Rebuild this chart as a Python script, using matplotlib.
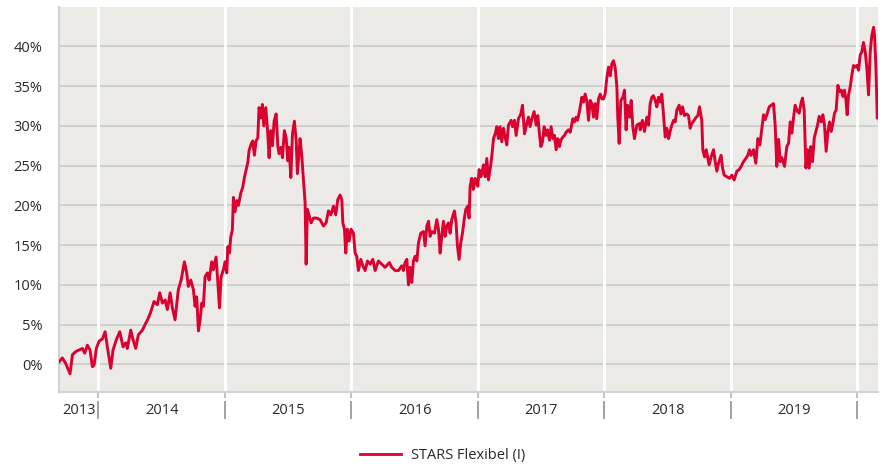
import matplotlib.pyplot as plt
from matplotlib.lines import Line2D

plt.rcParams["font.family"] = ["Open Sans", "DejaVu Sans"]

# Dates of the readings, as decimal years
years = [
    2013.690, 2013.716, 2013.743, 2013.777, 2013.796, 2013.822, 2013.848, 2013.875,
    2013.893, 2013.914, 2013.935, 2013.954, 2013.967, 2013.985, 2014.006, 2014.033,
    2014.054, 2014.072, 2014.099, 2014.117, 2014.143, 2014.170, 2014.196, 2014.217,
    2014.230, 2014.257, 2014.275, 2014.296, 2014.317, 2014.349, 2014.370, 2014.396,
    2014.415, 2014.441, 2014.467, 2014.486, 2014.507, 2014.528, 2014.546, 2014.568,
    2014.586, 2014.607, 2014.633, 2014.655, 2014.681, 2014.699, 2014.712, 2014.731,
    2014.752, 2014.765, 2014.778, 2014.792, 2014.805, 2014.818, 2014.831, 2014.844,
    2014.863, 2014.876, 2014.897, 2014.910, 2014.931, 2014.944, 2014.958, 2014.971,
    2014.989, 2015.002, 2015.016, 2015.024, 2015.037, 2015.047, 2015.060, 2015.068,
    2015.081, 2015.095, 2015.108, 2015.126, 2015.142, 2015.155, 2015.168, 2015.182,
    2015.192, 2015.208, 2015.221, 2015.234, 2015.247, 2015.261, 2015.271, 2015.284,
    2015.297, 2015.308, 2015.324, 2015.340, 2015.350, 2015.363, 2015.377, 2015.390,
    2015.406, 2015.419, 2015.429, 2015.445, 2015.456, 2015.471, 2015.485, 2015.498,
    2015.508, 2015.522, 2015.535, 2015.550, 2015.564, 2015.574, 2015.595, 2015.608,
    2015.622, 2015.635, 2015.643, 2015.653, 2015.669, 2015.682, 2015.701, 2015.727,
    2015.753, 2015.780, 2015.801, 2015.819, 2015.838, 2015.859, 2015.877, 2015.893,
    2015.911, 2015.925, 2015.933, 2015.946, 2015.956, 2015.969, 2015.983, 2015.998,
    2016.017, 2016.030, 2016.043, 2016.056, 2016.075, 2016.091, 2016.109, 2016.128,
    2016.149, 2016.170, 2016.188, 2016.214, 2016.241, 2016.267, 2016.301, 2016.320,
    2016.346, 2016.373, 2016.399, 2016.412, 2016.425, 2016.439, 2016.452, 2016.465,
    2016.478, 2016.491, 2016.504, 2016.518, 2016.531, 2016.549, 2016.570, 2016.583,
    2016.597, 2016.610, 2016.623, 2016.636, 2016.657, 2016.676, 2016.689, 2016.702,
    2016.715, 2016.728, 2016.742, 2016.755, 2016.768, 2016.781, 2016.794, 2016.815,
    2016.828, 2016.839, 2016.852, 2016.865, 2016.879, 2016.892, 2016.905, 2016.921,
    2016.931, 2016.939, 2016.952, 2016.965, 2016.979, 2017.000, 2017.010, 2017.026,
    2017.045, 2017.058, 2017.071, 2017.084, 2017.097, 2017.110, 2017.124, 2017.137,
    2017.150, 2017.163, 2017.176, 2017.189, 2017.203, 2017.216, 2017.229, 2017.242,
    2017.263, 2017.274, 2017.290, 2017.303, 2017.321, 2017.340, 2017.353, 2017.369,
    2017.387, 2017.400, 2017.413, 2017.427, 2017.445, 2017.461, 2017.474, 2017.487,
    2017.498, 2017.511, 2017.524, 2017.537, 2017.550, 2017.566, 2017.579, 2017.593,
    2017.606, 2017.619, 2017.632, 2017.645, 2017.656, 2017.672, 2017.685, 2017.698,
    2017.716, 2017.730, 2017.751, 2017.764, 2017.777, 2017.788, 2017.803, 2017.822,
    2017.835, 2017.848, 2017.861, 2017.875, 2017.888, 2017.901, 2017.914, 2017.927,
    2017.940, 2017.954, 2017.967, 2017.980, 2017.993, 2018.006, 2018.020, 2018.033,
    2018.046, 2018.059, 2018.072, 2018.085, 2018.099, 2018.106, 2018.117, 2018.130,
    2018.146, 2018.159, 2018.172, 2018.183, 2018.199, 2018.212, 2018.225, 2018.238,
    2018.257, 2018.278, 2018.283, 2018.301, 2018.317, 2018.336, 2018.349, 2018.362,
    2018.375, 2018.388, 2018.402, 2018.415, 2018.428, 2018.441, 2018.454, 2018.467,
    2018.481, 2018.494, 2018.507, 2018.520, 2018.533, 2018.547, 2018.560, 2018.573,
    2018.591, 2018.605, 2018.618, 2018.633, 2018.652, 2018.665, 2018.678, 2018.691,
    2018.710, 2018.726, 2018.739, 2018.752, 2018.770, 2018.778, 2018.792, 2018.805,
    2018.818, 2018.828, 2018.844, 2018.863, 2018.876, 2018.889, 2018.902, 2018.923,
    2018.934, 2018.947, 2018.968, 2018.989, 2019.008, 2019.026, 2019.047, 2019.066,
    2019.081, 2019.100, 2019.118, 2019.134, 2019.147, 2019.160, 2019.179, 2019.197,
    2019.213, 2019.229, 2019.245, 2019.258, 2019.271, 2019.284, 2019.303, 2019.319,
    2019.337, 2019.350, 2019.363, 2019.377, 2019.390, 2019.403, 2019.424, 2019.442,
    2019.456, 2019.469, 2019.482, 2019.495, 2019.508, 2019.527, 2019.540, 2019.556,
    2019.566, 2019.579, 2019.593, 2019.606, 2019.619, 2019.632, 2019.645, 2019.659,
    2019.672, 2019.685, 2019.698, 2019.714, 2019.727, 2019.740, 2019.753, 2019.767,
    2019.780, 2019.793, 2019.806, 2019.819, 2019.832, 2019.846, 2019.859, 2019.872,
    2019.885, 2019.898, 2019.909, 2019.919, 2019.930, 2019.943, 2019.956, 2019.969,
    2019.983, 2019.996, 2020.009, 2020.022, 2020.035, 2020.048, 2020.062, 2020.075,
    2020.088, 2020.101, 2020.114, 2020.128, 2020.135, 2020.146, 2020.157,
]

# Cumulative performance in percent
perf = [
    0.3, 0.8, 0.1, -1.2, 1.2, 1.6, 1.8, 2.0,
    1.4, 2.4, 1.8, -0.3, -0.1, 2.0, 2.9, 3.2,
    4.1, 2.2, -0.5, 1.8, 3.1, 4.1, 2.2, 2.7,
    2.0, 4.3, 3.1, 2.0, 3.7, 4.3, 5.0, 5.8,
    6.6, 7.9, 7.5, 9.0, 7.7, 8.1, 6.9, 9.0,
    7.1, 5.6, 9.4, 10.6, 12.9, 11.5, 9.8, 10.6,
    9.4, 7.3, 8.5, 4.2, 5.6, 7.7, 7.3, 11.0,
    11.5, 10.6, 12.9, 11.9, 13.5, 10.6, 7.1, 11.0,
    11.9, 12.9, 11.5, 14.8, 14.0, 16.0, 16.9, 21.0,
    19.2, 20.6, 20.0, 21.5, 22.3, 23.5, 24.4, 25.4,
    26.9, 27.7, 28.1, 26.3, 28.1, 28.5, 32.3, 31.0,
    32.7, 30.0, 32.3, 29.0, 26.0, 29.4, 27.5, 30.6,
    31.5, 27.5, 26.5, 27.3, 26.0, 29.4, 28.5, 25.6,
    27.3, 23.5, 29.0, 30.6, 28.2, 24.0, 28.4, 26.3,
    23.2, 20.3, 12.6, 19.5, 18.6, 17.8, 18.4, 18.4,
    18.2, 17.4, 17.8, 19.3, 18.8, 19.9, 18.8, 20.7,
    21.3, 20.7, 17.8, 17.0, 14.0, 17.0, 15.5, 17.0,
    16.5, 14.0, 13.6, 11.8, 13.2, 12.4, 11.8, 13.0,
    12.6, 13.2, 11.8, 13.0, 12.6, 12.2, 12.8, 12.2,
    11.8, 11.8, 12.4, 11.8, 12.8, 13.2, 10.0, 12.2,
    10.3, 13.0, 13.6, 13.0, 15.3, 16.5, 16.7, 14.9,
    17.4, 18.0, 16.1, 16.7, 16.5, 18.2, 17.0, 14.0,
    16.1, 18.0, 16.1, 17.4, 17.8, 16.5, 18.2, 19.3,
    17.8, 14.9, 13.2, 15.3, 16.5, 18.2, 19.5, 19.9,
    18.4, 22.4, 23.4, 22.0, 23.4, 22.4, 24.5, 23.6,
    25.1, 23.6, 25.9, 23.2, 24.5, 26.1, 28.4, 29.0,
    29.9, 28.4, 29.9, 28.0, 29.7, 28.6, 27.6, 30.1,
    30.7, 29.9, 30.7, 28.8, 30.9, 31.5, 32.6, 29.0,
    30.3, 31.1, 29.9, 30.9, 31.8, 30.1, 31.3, 29.0,
    27.4, 28.0, 29.9, 28.8, 29.5, 28.2, 29.9, 28.4,
    28.8, 27.0, 28.4, 27.4, 28.2, 28.6, 28.8, 29.2,
    29.5, 29.2, 30.9, 30.5, 31.1, 30.7, 31.8, 33.6,
    33.0, 34.0, 33.2, 30.7, 33.2, 32.8, 31.1, 32.8,
    30.9, 33.4, 34.0, 33.4, 33.4, 34.0, 36.1, 37.4,
    36.3, 37.8, 38.2, 37.4, 34.9, 31.1, 27.8, 33.2,
    33.6, 34.5, 29.5, 32.6, 31.1, 33.2, 29.9, 28.4,
    30.1, 30.3, 29.5, 30.7, 29.3, 31.1, 30.1, 32.8,
    33.6, 33.8, 33.2, 32.4, 33.6, 33.0, 34.0, 31.5,
    28.6, 29.7, 28.4, 29.3, 30.1, 30.7, 30.5, 32.0,
    32.6, 31.5, 32.4, 31.3, 31.5, 31.3, 29.7, 30.3,
    30.7, 31.1, 31.3, 32.4, 30.7, 27.0, 26.1, 27.0,
    25.9, 25.1, 26.1, 27.0, 25.5, 24.3, 25.3, 26.3,
    24.7, 23.8, 23.6, 23.4, 23.8, 23.2, 24.3, 24.5,
    24.9, 25.5, 25.9, 26.3, 27.0, 26.3, 27.0, 25.3,
    28.4, 27.6, 29.7, 31.4, 30.8, 31.4, 32.4, 32.6,
    32.8, 30.1, 24.9, 28.3, 25.5, 26.0, 24.9, 27.4,
    27.8, 30.5, 29.1, 31.0, 32.6, 31.8, 31.6, 33.0,
    33.5, 32.0, 24.7, 27.0, 24.7, 27.4, 25.5, 28.5,
    29.3, 30.1, 31.2, 30.5, 31.4, 30.1, 26.8, 29.3,
    30.5, 29.3, 30.3, 31.6, 32.0, 35.1, 34.3, 34.5,
    33.7, 34.5, 33.3, 31.4, 33.9, 34.9, 36.4, 37.6,
    37.4, 37.6, 37.0, 38.9, 39.3, 40.5, 39.3, 37.2,
    33.9, 39.3, 41.4, 42.4, 41.4, 37.6, 31.0,
]

year_starts = [2014, 2015, 2016, 2017, 2018, 2019, 2020]
year_labels = ["2013", "2014", "2015", "2016", "2017", "2018", "2019"]
y_ticks = [0, 5, 10, 15, 20, 25, 30, 35, 40]
series_name = "STARS Flexibel (I)"

RED = "#DA0030"
TEXT = "#2a2a2a"
x_min, x_max = 2013.69, 2020.16

fig = plt.figure(figsize=(8.85, 4.67), dpi=100)
ax = fig.add_axes([0.0667, 0.1612, 0.9250, 0.8245])
ax.set_facecolor("#EBEAE7")

ax.plot(years, perf, color=RED, lw=2.1, zorder=3, solid_joinstyle="round")

# white year separators inside the plot
for ys in year_starts:
    ax.axvline(ys, color="white", lw=2.2, zorder=1)

ax.set_xlim(x_min, x_max)
ax.set_ylim(-3.45, 45.0)

ax.set_yticks(y_ticks)
ax.set_yticklabels([f"{v}%" for v in y_ticks])
ax.yaxis.grid(True, color="#CDCDCD", lw=1.3)
ax.set_axisbelow(True)
ax.tick_params(axis="y", length=0, pad=12, labelsize=10.5, labelcolor=TEXT)

# year boundaries as short ticks, labels centred in each year
edges = [x_min] + year_starts
mids = [(a + b) / 2 for a, b in zip(edges[:-1], edges[1:])]
ax.set_xticks(year_starts)
ax.set_xticklabels([])
ax.set_xticks(mids, minor=True)
ax.set_xticklabels(year_labels, minor=True)
ax.tick_params(axis="x", which="major", length=4, width=1.5, color="#C4C4C4")
ax.tick_params(axis="x", which="minor", length=0, pad=8, labelsize=10.5,
               labelcolor=TEXT)

# separator bars between the year labels
trans = ax.get_xaxis_transform()
for ys in year_starts:
    ax.plot([ys, ys], [-0.027, -0.068], transform=trans, color="#9A9A9A",
            lw=1.3, clip_on=False)

for side in ["top", "right"]:
    ax.spines[side].set_visible(False)
for side in ["left", "bottom"]:
    ax.spines[side].set_color("#D2D2D2")
    ax.spines[side].set_linewidth(1.5)

handle = Line2D([], [], color=RED, lw=2.0)
fig.legend([handle], [series_name], loc="center", bbox_to_anchor=(0.5, 0.024),
           frameon=False, fontsize=10.5, handlelength=2.8, handletextpad=0.7,
           labelcolor=TEXT)

fig.savefig("out.png", dpi=100)
